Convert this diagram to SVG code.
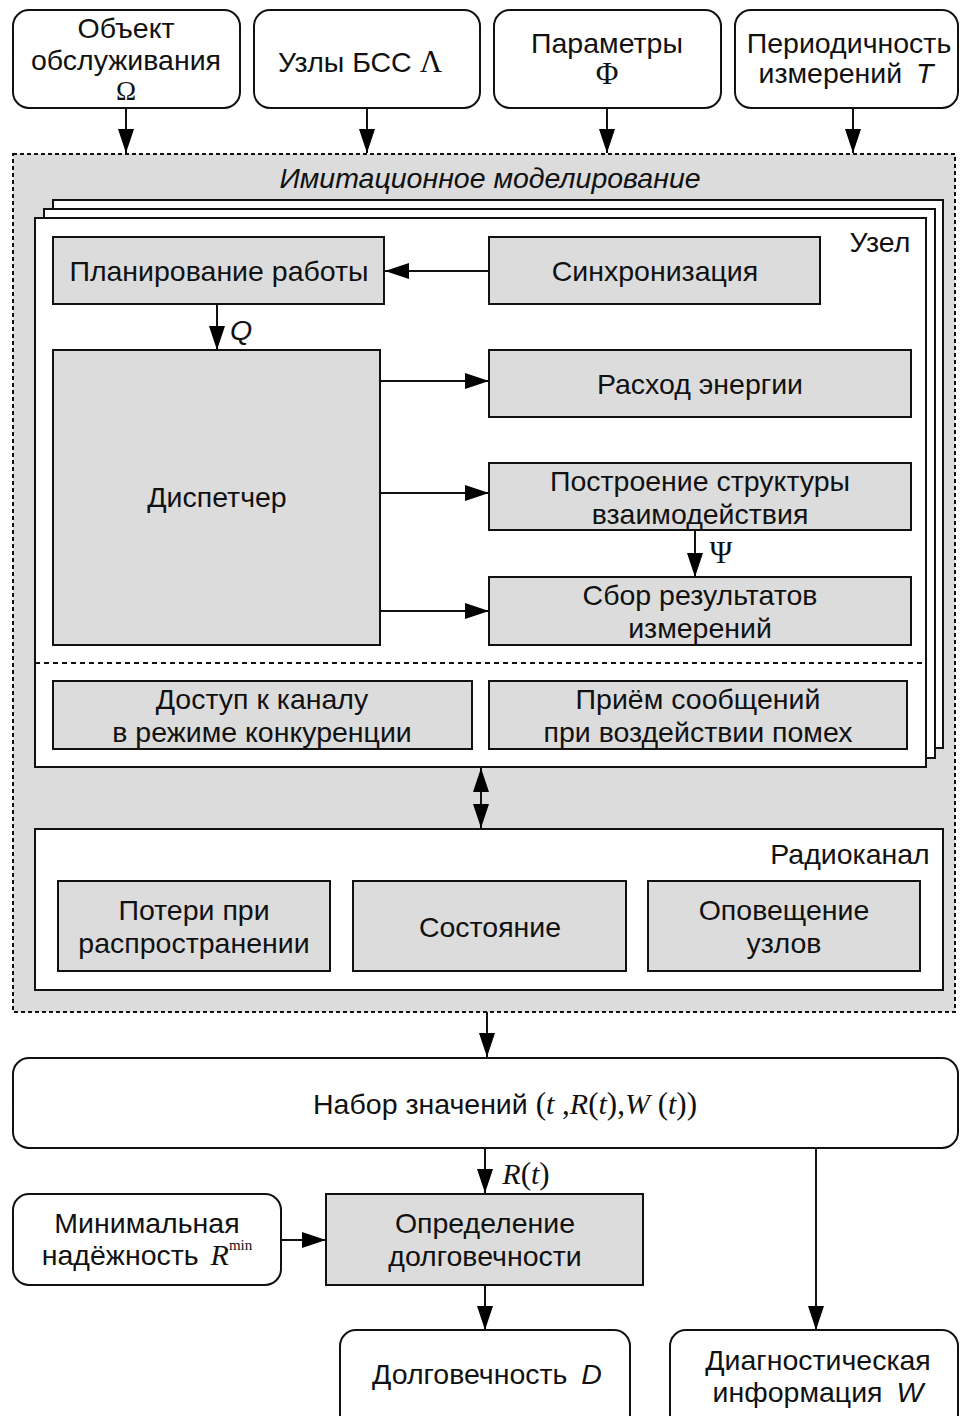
<svg xmlns="http://www.w3.org/2000/svg" width="960" height="1416" viewBox="0 0 960 1416">
<defs>
<marker id="ah" viewBox="0 0 24 16" refX="24" refY="8" markerWidth="24" markerHeight="16" markerUnits="userSpaceOnUse" orient="auto-start-reverse">
<path d="M0,0 L24,8 L0,16 Z" fill="#000"/>
</marker>
<style>
.t{font-family:"Liberation Sans",Arial,sans-serif;font-size:28.5px;fill:#111;text-anchor:middle}
.it{font-style:italic}
.m{font-family:"Liberation Serif","Times New Roman",serif;font-size:30px;font-style:italic}
.g{font-family:"Liberation Serif","Times New Roman",serif;font-size:31px;font-style:normal}
.gr{font-family:"Liberation Serif","Times New Roman",serif;font-size:31px;font-style:normal}
.gs{font-family:"Liberation Serif","Times New Roman",serif;font-size:27px;font-style:normal}
.sup{font-family:"Liberation Serif","Times New Roman",serif;font-size:15px;font-style:normal}
.io{fill:#fff;stroke:#111;stroke-width:2}
.blk{fill:#dcdcdc;stroke:#111;stroke-width:2}
.frm{fill:#fff;stroke:#111;stroke-width:2}
.c{stroke:#111;stroke-width:2;fill:none}
</style>
</defs>
<rect width="960" height="1416" fill="#fff"/>

<!-- simulation area -->
<g id="sim">
<rect x="13" y="154" width="942" height="858" fill="#dcdcdc" stroke="#111" stroke-width="2" stroke-dasharray="4,3"/>
<text class="t it" x="490" y="188">Имитационное моделирование</text>
</g>

<!-- inputs -->
<g id="in-omega"><rect class="io" x="13" y="10" width="227" height="98" rx="16"/>
<text class="t" x="126" y="38">Объект</text><text class="t" x="126" y="70">обслуживания</text><text class="t gs" x="126" y="100">Ω</text></g>
<g id="in-lambda"><rect class="io" x="254" y="10" width="226" height="98" rx="16"/>
<text class="t" x="360" y="72">Узлы БСС <tspan class="gr">Λ</tspan></text></g>
<g id="in-phi"><rect class="io" x="494" y="10" width="227" height="98" rx="16"/>
<text class="t" x="607" y="53">Параметры</text><text class="t gr" x="607" y="84">Φ</text></g>
<g id="in-T"><rect class="io" x="735" y="10" width="223" height="98" rx="16"/>
<text class="t" x="849" y="53">Периодичность</text><text class="t" x="846" y="83">измерений <tspan class="it" dx="6">T</tspan></text></g>

<!-- node frames -->
<g id="node">
<rect class="frm" x="53" y="200" width="890" height="548"/>
<rect class="frm" x="44" y="209" width="891" height="549"/>
<rect class="frm" x="35" y="218" width="891" height="549"/>
<text class="t" x="880" y="252">Узел</text>
<line x1="35" y1="663" x2="926" y2="663" stroke="#111" stroke-width="2" stroke-dasharray="5,4"/>
</g>
<g id="plan"><rect class="blk" x="53" y="237" width="331" height="67"/><text class="t" x="219" y="281">Планирование работы</text></g>
<g id="sync"><rect class="blk" x="489" y="237" width="331" height="67"/><text class="t" x="655" y="281">Синхронизация</text></g>
<g id="disp"><rect class="blk" x="53" y="350" width="327" height="295"/><text class="t" x="217" y="507">Диспетчер</text></g>
<g id="energy"><rect class="blk" x="489" y="350" width="422" height="67"/><text class="t" x="700" y="394">Расход энергии</text></g>
<g id="struct"><rect class="blk" x="489" y="463" width="422" height="67"/><text class="t" x="700" y="491">Построение структуры</text><text class="t" x="700" y="524">взаимодействия</text></g>
<g id="collect"><rect class="blk" x="489" y="577" width="422" height="68"/><text class="t" x="700" y="605">Сбор результатов</text><text class="t" x="700" y="638">измерений</text></g>
<g id="access"><rect class="blk" x="53" y="681" width="419" height="68"/><text class="t" x="262" y="709">Доступ к каналу</text><text class="t" x="262" y="742">в режиме конкуренции</text></g>
<g id="recv"><rect class="blk" x="489" y="681" width="418" height="68"/><text class="t" x="698" y="709">Приём сообщений</text><text class="t" x="698" y="742">при воздействии помех</text></g>

<!-- radio channel -->
<g id="radio"><rect class="frm" x="35" y="829" width="908" height="161"/><text class="t" x="850" y="864">Радиоканал</text></g>
<g id="loss"><rect class="blk" x="58" y="881" width="272" height="90"/><text class="t" x="194" y="920">Потери при</text><text class="t" x="194" y="953">распространении</text></g>
<g id="state"><rect class="blk" x="353" y="881" width="273" height="90"/><text class="t" x="490" y="937">Состояние</text></g>
<g id="notify"><rect class="blk" x="648" y="881" width="272" height="90"/><text class="t" x="784" y="920">Оповещение</text><text class="t" x="784" y="953">узлов</text></g>

<!-- outputs -->
<g id="values"><rect class="io" x="13" y="1058" width="945" height="90" rx="16"/>
<text class="t" x="505" y="1114">Набор значений <tspan class="g">(</tspan><tspan class="m">t</tspan><tspan class="g"> ,</tspan><tspan class="m">R</tspan><tspan class="g">(</tspan><tspan class="m">t</tspan><tspan class="g">),</tspan><tspan class="m">W</tspan><tspan class="g"> (</tspan><tspan class="m">t</tspan><tspan class="g">))</tspan></text></g>
<g id="rmin"><rect class="io" x="13" y="1194" width="268" height="91" rx="16"/>
<text class="t" x="147" y="1233">Минимальная</text><text class="t" x="147" y="1265">надёжность <tspan class="m" dx="4">R</tspan><tspan class="sup" dy="-15">min</tspan></text></g>
<g id="life-calc"><rect class="blk" x="326" y="1194" width="317" height="91"/><text class="t" x="485" y="1233">Определение</text><text class="t" x="485" y="1266">долговечности</text></g>
<g id="life"><rect class="io" x="340" y="1330" width="290" height="100" rx="16"/><text class="t" x="487" y="1384">Долговечность <tspan class="it" dx="6">D</tspan></text></g>
<g id="diag"><rect class="io" x="670" y="1330" width="288" height="100" rx="16"/><text class="t" x="818" y="1370">Диагностическая</text><text class="t" x="818" y="1402">информация <tspan class="it" dx="6">W</tspan></text></g>

<!-- connectors -->
<g id="connectors">
<line class="c" x1="126" y1="108" x2="126" y2="153" marker-end="url(#ah)"/>
<line class="c" x1="367" y1="108" x2="367" y2="153" marker-end="url(#ah)"/>
<line class="c" x1="607" y1="108" x2="607" y2="153" marker-end="url(#ah)"/>
<line class="c" x1="853" y1="108" x2="853" y2="153" marker-end="url(#ah)"/>
<line class="c" x1="489" y1="271" x2="385" y2="271" marker-end="url(#ah)"/>
<line class="c" x1="217" y1="304" x2="217" y2="350" marker-end="url(#ah)"/>
<line class="c" x1="381" y1="381" x2="489" y2="381" marker-end="url(#ah)"/>
<line class="c" x1="381" y1="493" x2="489" y2="493" marker-end="url(#ah)"/>
<line class="c" x1="381" y1="611" x2="489" y2="611" marker-end="url(#ah)"/>
<line class="c" x1="695" y1="530" x2="695" y2="577" marker-end="url(#ah)"/>
<line class="c" x1="481" y1="768" x2="481" y2="828" marker-start="url(#ah)" marker-end="url(#ah)"/>
<line class="c" x1="487" y1="1012" x2="487" y2="1057" marker-end="url(#ah)"/>
<line class="c" x1="485" y1="1148" x2="485" y2="1193" marker-end="url(#ah)"/>
<line class="c" x1="281" y1="1240" x2="326" y2="1240" marker-end="url(#ah)"/>
<line class="c" x1="485" y1="1285" x2="485" y2="1330" marker-end="url(#ah)"/>
<line class="c" x1="816" y1="1148" x2="816" y2="1330" marker-end="url(#ah)"/>
<text class="t it" x="241" y="340">Q</text>
<text class="t gr" x="721" y="563">Ψ</text>
<text class="t" x="526" y="1184"><tspan class="m">R</tspan><tspan class="g">(</tspan><tspan class="m">t</tspan><tspan class="g">)</tspan></text>
</g>
</svg>
